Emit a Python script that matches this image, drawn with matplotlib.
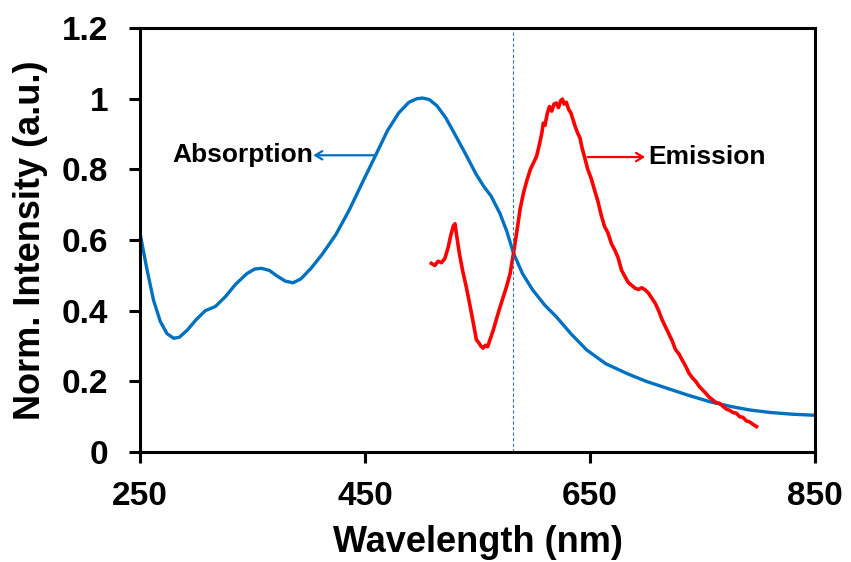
import numpy as np
import matplotlib.pyplot as plt

plt.rcParams['font.family'] = ['Liberation Sans', 'DejaVu Sans']
plt.rcParams['font.weight'] = 'bold'

# absorption spectrum (normalised)
abs_wl = [250, 256, 262, 268, 274, 280, 285, 292, 300, 308, 317, 326, 335, 345, 352, 358,
          365, 372, 379, 386, 393, 402, 412, 424, 436, 448, 459, 470, 480, 489, 496, 501,
          507, 514, 522, 531, 540, 549, 556, 562, 570, 576, 582, 590, 599, 610, 620, 633,
          647, 664, 683, 700, 718, 738, 757, 775, 792, 810, 830, 850]
abs_int = [0.62, 0.52, 0.43, 0.37, 0.335, 0.322, 0.325, 0.345, 0.375, 0.40, 0.412, 0.44, 0.475, 0.505, 0.518, 0.52,
           0.514, 0.498, 0.484, 0.479, 0.49, 0.52, 0.56, 0.615, 0.685, 0.765, 0.837, 0.91, 0.96, 0.99, 1.0, 1.002,
           0.998, 0.98, 0.945, 0.893, 0.84, 0.785, 0.75, 0.725, 0.675, 0.625, 0.563, 0.505, 0.459, 0.415, 0.383, 0.335,
           0.289, 0.25, 0.222, 0.2, 0.181, 0.16, 0.142, 0.129, 0.119, 0.112, 0.107, 0.104]

em_wl = [509, 512, 515, 518, 521, 524, 526, 528.5, 530, 531.5, 534, 537, 540, 543, 546, 549, 551, 553, 555,
         557, 559, 561, 564, 567, 570, 573, 576, 579, 582, 585, 588, 591, 594, 597, 600, 602.5, 605, 607,
         608.5, 610, 612, 614, 616, 618, 620, 622, 624, 625.5, 627, 629, 631, 633, 635, 637, 639, 641, 643,
         645, 648, 651, 654, 657, 660, 663, 666, 669, 672, 675, 678, 681, 684, 687, 690, 693, 696, 699,
         702, 705, 708, 711, 714, 717, 720, 723, 726, 729, 732, 735, 738, 741, 744, 747, 750, 753, 756,
         759, 762, 765, 768, 771, 774, 777, 780, 783, 786, 789, 792, 795, 798]
em_int = [0.534, 0.528, 0.54, 0.536, 0.548, 0.58, 0.61, 0.64, 0.646, 0.612, 0.56, 0.51, 0.468, 0.42, 0.37, 0.318, 0.31, 0.30, 0.294,
          0.302, 0.298, 0.317, 0.345, 0.378, 0.41, 0.44, 0.47, 0.505, 0.563, 0.625, 0.69, 0.735, 0.77, 0.80, 0.82, 0.837, 0.87, 0.9,
          0.931, 0.925, 0.958, 0.978, 0.965, 0.985, 0.988, 0.975, 0.995, 0.999, 0.985, 0.99, 0.97, 0.96, 0.94, 0.92, 0.903, 0.89, 0.86,
          0.837, 0.80, 0.775, 0.742, 0.71, 0.67, 0.638, 0.62, 0.59, 0.572, 0.55, 0.515, 0.497, 0.48, 0.472, 0.464, 0.46, 0.465, 0.459,
          0.45, 0.435, 0.421, 0.40, 0.375, 0.355, 0.335, 0.315, 0.29, 0.278, 0.26, 0.243, 0.223, 0.21, 0.2, 0.186, 0.176, 0.166, 0.155,
          0.148, 0.14, 0.138, 0.13, 0.122, 0.118, 0.112, 0.11, 0.1, 0.098, 0.088, 0.085, 0.078, 0.072]

cut_wl = 582

fig = plt.figure(figsize=(8.51, 5.62), dpi=100)
ax = fig.add_axes([0.1645, 0.1957, 0.7932, 0.7543])

ax.plot(abs_wl, abs_int, color='#0070C0', lw=2.4, solid_capstyle='round')
ax.plot(em_wl, em_int, color='#FF0000', lw=2.6, solid_joinstyle='round')
ax.axvline(cut_wl, color='#2E75B6', lw=0.8, ls=(0, (3, 2)))

arrow = dict(arrowstyle='->,head_length=0.5,head_width=0.3', lw=1.6, shrinkA=0, shrinkB=0)
ax.annotate('', xy=(404, 0.84), xytext=(459, 0.84), arrowprops=dict(arrow, color='#0070C0'))
ax.text(404, 0.84, 'Absorption', ha='right', va='center', fontsize=19, fontweight='bold')
ax.annotate('', xy=(699, 0.835), xytext=(648, 0.835), arrowprops=dict(arrow, color='#FF0000'))
ax.text(702, 0.835, 'Emission', ha='left', va='center', fontsize=19, fontweight='bold')

ax.set_xlim(250, 850)
ax.set_ylim(0, 1.2)
ax.set_xticks([250, 450, 650, 850])
ax.set_yticks([0, 0.2, 0.4, 0.6, 0.8, 1.0, 1.2])
ax.set_yticklabels(['0', '0.2', '0.4', '0.6', '0.8', '1', '1.2'])
ax.tick_params(direction='out', length=8, width=2.2, labelsize=24)
ax.tick_params(axis='y', pad=15)
ax.tick_params(axis='x', pad=13)
for s in ax.spines.values():
    s.set_linewidth(2.2)
ax.set_xlabel('Wavelength (nm)', fontsize=26, fontweight='bold', labelpad=9)
ax.set_ylabel('Norm. Intensity (a.u.)', fontsize=26, fontweight='bold', labelpad=10)

fig.savefig('out.png', dpi=100)
